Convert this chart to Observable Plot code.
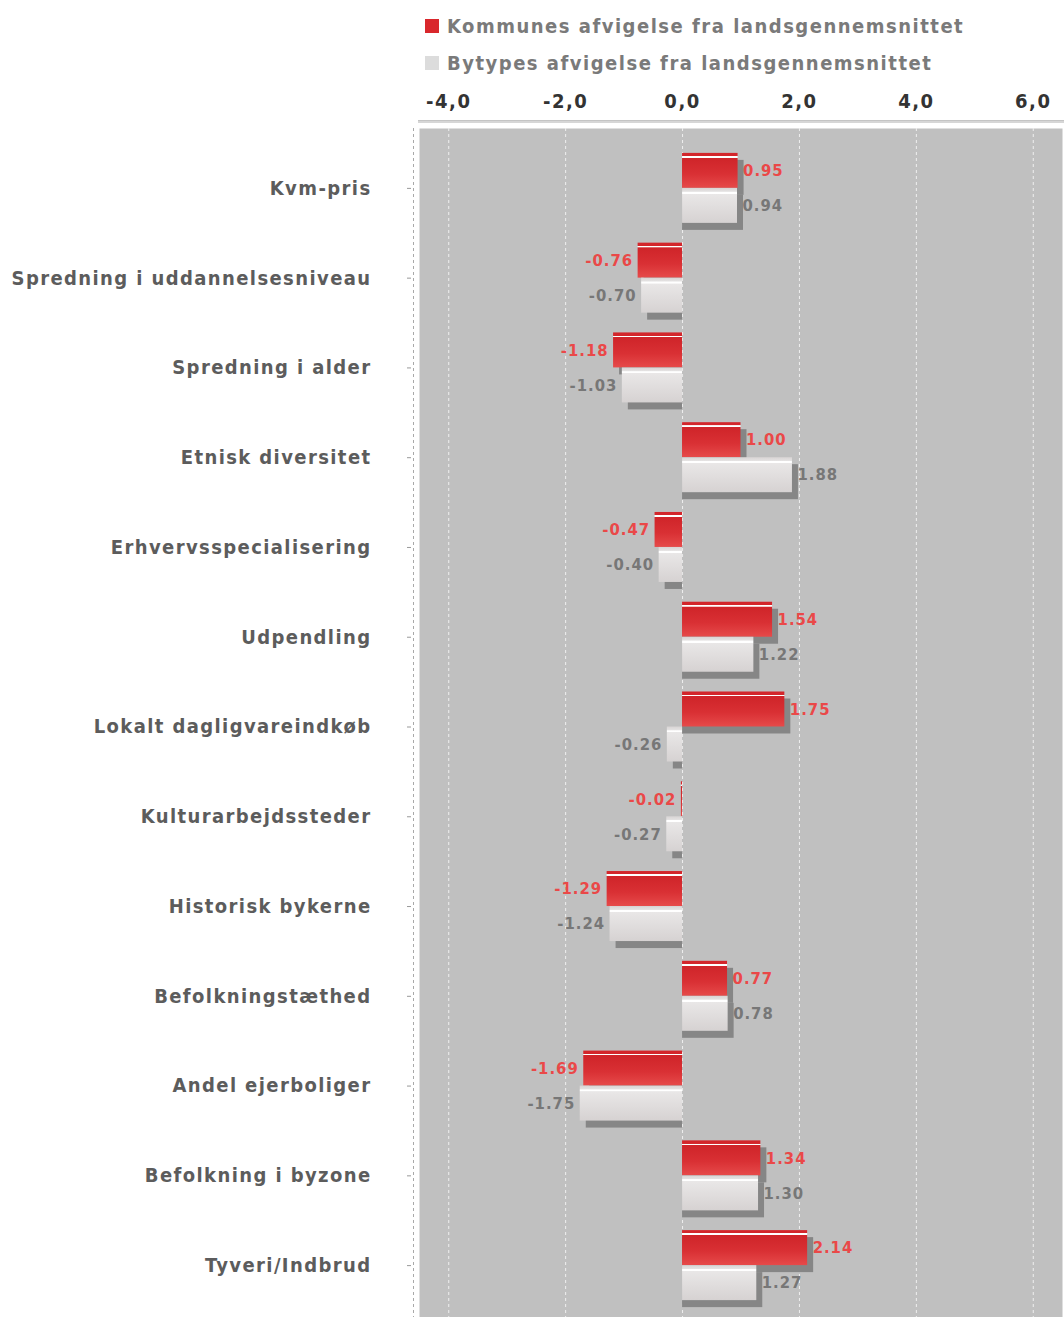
<!DOCTYPE html>
<html>
<head>
<meta charset="utf-8">
<script src="https://cdn.jsdelivr.net/npm/d3@7"></script>
<script src="https://cdn.jsdelivr.net/npm/@observablehq/plot@0.6"></script>
<style>
  body { margin: 0; background: #fff; width: 1064px; height: 1317px; overflow: hidden;
         font-family: "DejaVu Sans Condensed", "DejaVu Sans", sans-serif; font-stretch: condensed; }
  #legend { position: relative; height: 80px; }
  .item { position: absolute; left: 425px; height: 24px; display: flex; align-items: center;
          font-weight: bold; font-size: 20px; letter-spacing: 1.5px; color: #7a7a7a; white-space: nowrap; }
  .sw { width: 14px; height: 14px; margin-right: 8px; }
  #chart svg { display: block; }
  #chart g[aria-label="y-axis tick label"] text { letter-spacing: 1.4px; }
  #chart g[aria-label="x-axis tick label"] text { letter-spacing: 1.5px; }
  #chart g[aria-label="text"] text { letter-spacing: 1px; }
</style>
</head>
<body>
<div id="legend"></div>
<div id="chart"></div>
<script>
// Indicators, top to bottom
const categories = [
  "Kvm-pris",
  "Spredning i uddannelsesniveau",
  "Spredning i alder",
  "Etnisk diversitet",
  "Erhvervsspecialisering",
  "Udpendling",
  "Lokalt dagligvareindkøb",
  "Kulturarbejdssteder",
  "Historisk bykerne",
  "Befolkningstæthed",
  "Andel ejerboliger",
  "Befolkning i byzone",
  "Tyveri/Indbrud"
];
// Deviation of the municipality from the national average
const kommune = [0.95, -0.76, -1.18, 1.00, -0.47, 1.54, 1.75, -0.02, -1.29, 0.77, -1.69, 1.34, 2.14];
// Deviation of the town type from the national average
const bytype = [0.94, -0.70, -1.03, 1.88, -0.40, 1.22, -0.26, -0.27, -1.24, 0.78, -1.75, 1.30, 1.27];
const seriesNames = ["Kommunes afvigelse fra landsgennemsnittet", "Bytypes afvigelse fra landsgennemsnittet"];
const xTicks = [-4, -2, 0, 2, 4, 6];

// Legend
const legendColors = ["#d9272c", "#dcdcdc"];
const legend = d3.select("#legend");
seriesNames.forEach((name, i) => {
  const it = legend.append("div").attr("class", "item").style("top", (14 + i * 37) + "px");
  it.append("div").attr("class", "sw").style("background", legendColors[i]);
  it.append("span").text(name);
});

// Chart geometry
const width = 1064, height = 1237;
const marginTop = 48, marginLeft = 419, marginRight = 2;
const xDomain = [-4.5, 6.5];
const yRange = [63, 1230];
const bandwidth = (yRange[1] - yRange[0]) / categories.length;
const half = bandwidth / 2;
const barH = 35;
const pxPerUnit = (width - marginRight - marginLeft) / (xDomain[1] - xDomain[0]);
const shadowDx = 6, shadowDy = 7;

const kData = categories.map((c, i) => ({category: c, value: kommune[i]}));
const bData = categories.map((c, i) => ({category: c, value: bytype[i]}));

// Shadow keeps its zero end and pushes the far end right by a few pixels
const shadowEnd = d => {
  const e = d.value + shadowDx / pxPerUnit;
  return d.value < 0 ? Math.min(e, 0) : e;
};
const fmt = v => v.toFixed(2);
const tickFmt = v => v.toFixed(1).replace(".", ",");

const labelFont = {fontSize: 16.5, fontWeight: "bold"};

const plot = Plot.plot({
  width, height,
  marginTop, marginBottom: 0, marginLeft, marginRight,
  style: {fontFamily: '"DejaVu Sans Condensed", "DejaVu Sans", sans-serif', background: "transparent", overflow: "visible"},
  x: {domain: xDomain},
  y: {domain: categories, range: yRange, padding: 0, round: false, axis: null},
  marks: [
    Plot.frame({fill: "#c0c0c0", stroke: "none"}),
    Plot.ruleX(xTicks, {stroke: "#efefef", strokeDasharray: "3,3"}),
    Plot.ruleX([xDomain[0]], {dx: -6, stroke: "#a9a9a9", strokeDasharray: "3,3"}),
    Plot.axisX(xTicks, {anchor: "top", tickSize: 0, tickPadding: 21, tickFormat: tickFmt,
      fontSize: 20, fontWeight: "bold", color: "#333", fill: "#333", label: null}),
    Plot.axisY({anchor: "left", tickSize: 4, tickPadding: 36, dx: -8,
      fontSize: 20, fontWeight: "bold", stroke: "#999", fill: "#5c5c5c", label: null}),
    // shadows
    Plot.barX(kData, {y: "category", x1: () => 0, x2: shadowEnd, dy: shadowDy,
      insetTop: half - barH, insetBottom: half, fill: "#868686"}),
    Plot.barX(bData, {y: "category", x1: () => 0, x2: shadowEnd, dy: shadowDy,
      insetTop: half, insetBottom: half - barH, fill: "#868686"}),
    // bars
    Plot.barX(kData, {y: "category", x1: () => 0, x2: "value",
      insetTop: half - barH, insetBottom: half, fill: "url(#kommuneFill)"}),
    Plot.barX(bData, {y: "category", x1: () => 0, x2: "value",
      insetTop: half, insetBottom: half - barH, fill: "url(#bytypeFill)"}),
    // value labels
    Plot.text(kData.filter(d => d.value >= 0), {y: "category", x: "value", text: d => fmt(d.value),
      dx: 5, dy: -barH / 2, textAnchor: "start", fill: "#ea4848", ...labelFont}),
    Plot.text(kData.filter(d => d.value < 0), {y: "category", x: "value", text: d => fmt(d.value),
      dx: -5, dy: -barH / 2, textAnchor: "end", fill: "#ea4848", ...labelFont}),
    Plot.text(bData.filter(d => d.value >= 0), {y: "category", x: "value", text: d => fmt(d.value),
      dx: 5, dy: barH / 2, textAnchor: "start", fill: "#777777", ...labelFont}),
    Plot.text(bData.filter(d => d.value < 0), {y: "category", x: "value", text: d => fmt(d.value),
      dx: -5, dy: barH / 2, textAnchor: "end", fill: "#777777", ...labelFont})
  ]
});

// Glossy fills for the two series and the double rule above the plot area
const svg = d3.select(plot);
const defs = svg.insert("defs", ":first-child");
const grad = (id, stops) => {
  const g = defs.append("linearGradient").attr("id", id)
    .attr("x1", 0).attr("y1", 0).attr("x2", 0).attr("y2", 1);
  stops.forEach(([o, c]) => g.append("stop").attr("offset", o).attr("stop-color", c));
};
grad("kommuneFill", [
  [0, "#d3262b"], [0.09, "#d3262b"], [0.095, "#ffffff"], [0.135, "#ffffff"],
  [0.14, "#cf2429"], [0.6, "#d93034"], [1, "#e64a4a"]
]);
grad("bytypeFill", [
  [0, "#d8d4d4"], [0.1, "#e4e2e2"], [0.12, "#ffffff"], [0.165, "#ffffff"],
  [0.17, "#e9e7e7"], [1, "#d6d2d2"]
]);
svg.append("rect").attr("x", marginLeft - 1).attr("y", marginTop - 8)
  .attr("width", width - marginLeft + 1).attr("height", 3).attr("fill", "#d6d6d6");
svg.append("line").attr("x1", marginLeft - 1).attr("x2", width).attr("y1", marginTop - 7.5).attr("y2", marginTop - 7.5)
  .attr("stroke", "#c4c4c4").attr("stroke-width", 1);

document.getElementById("chart").appendChild(plot);
</script>
</body>
</html>
